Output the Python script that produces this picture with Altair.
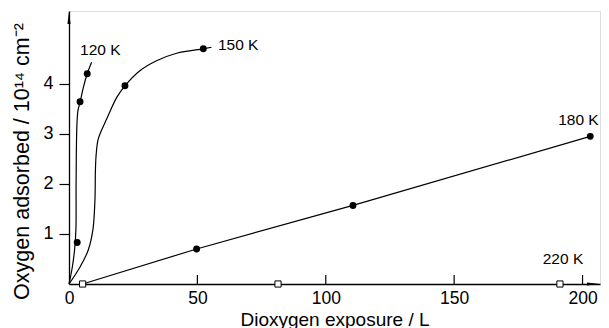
import altair as alt
import pandas as pd

# measured data points (Dioxygen exposure / L, oxygen adsorbed / 1e14 cm^-2)
k120_x = [3.2, 4.3, 7.1]
k120_y = [0.83, 3.64, 4.20]
k150_x = [21.8, 52.3]
k150_y = [3.96, 4.70]
k180_x = [49.7, 110.6, 203.0]
k180_y = [0.70, 1.57, 2.95]
k220_x = [5.3, 81.4, 191.2]
k220_y = [0.0, 0.0, 0.0]

# hand-drawn guide curves
c120_x = [0, 1.3, 2.2, 2.7, 2.75, 2.85, 3.1, 3.5, 4.3, 5.6, 7.1, 8.8]
c120_y = [0, 0.34, 0.70, 1.10, 1.90, 2.60, 3.20, 3.47, 3.63, 3.93, 4.20, 4.43]
c150_x = [0, 4.3, 7.5, 9.3, 10.1, 10.3, 10.6, 11.4, 14.7, 18.6, 21.8, 27.6, 34.1, 41.9, 52.3, 55.5]
c150_y = [0, 0.34, 0.68, 1.08, 1.67, 2.30, 2.60, 2.90, 3.30, 3.73, 3.96, 4.26, 4.46, 4.61, 4.70, 4.73]
c180_x = [5.3, 49.7, 110.6, 203.0]
c180_y = [0, 0.70, 1.57, 2.95]

labels = ["120 K", "150 K", "180 K", "220 K"]
label_x = [4.3, 58.0, 190.5, 184.5]
label_y = [4.68, 4.77, 3.28, 0.49]

x_ticks = [0, 50, 100, 150, 200]
x_inner_ticks = [50, 100, 150, 200]
y_ticks = [1, 2, 3, 4]
x_max = 206.8
y_max = 5.455

FONT = "Liberation Sans"
W, H = 531, 273

xscale = alt.Scale(domain=[0, x_max], nice=False, zero=False)
yscale = alt.Scale(domain=[0, y_max], nice=False, zero=False)

x_axis = alt.Axis(values=x_ticks, ticks=False, tickSize=0, grid=False, domainColor="black",
                  domainWidth=1.3, labelFontSize=17.5, labelColor="black", labelPadding=5,
                  labelFlush=False, labelFont=FONT, format="d",
                  title="Dioxygen exposure / L", titleFont=FONT,
                  titleFontSize=19, titleFontWeight="normal", titleColor="black",
                  titleY=41, titleBaseline="alphabetic")
y_axis = alt.Axis(values=y_ticks, ticks=True, tickSize=10, tickColor="black", tickWidth=1.2,
                  grid=False, domainColor="black", domainWidth=1.3, labelFontSize=18,
                  labelColor="black", labelPadding=6, labelFont=FONT, format="d",
                  title="Oxygen adsorbed / 10¹⁴ cm⁻²", titleFont=FONT, titleFontSize=21.5,
                  titleFontWeight="normal", titleColor="black", titleX=-40.5, titleY=150,
                  titleAlign="center", titleBaseline="alphabetic", titleAngle=270)


def X(field="x"):
    return alt.X(f"{field}:Q", scale=xscale, axis=x_axis)


def Y(field="y"):
    return alt.Y(f"{field}:Q", scale=yscale, axis=y_axis)


curves = pd.concat([
    pd.DataFrame({"x": c120_x, "y": c120_y, "k": "120", "i": range(len(c120_x))}),
    pd.DataFrame({"x": c150_x, "y": c150_y, "k": "150", "i": range(len(c150_x))}),
])
line180 = pd.DataFrame({"x": c180_x, "y": c180_y, "i": range(len(c180_x))})
dots = pd.DataFrame({"x": k120_x + k150_x + k180_x, "y": k120_y + k150_y + k180_y})
squares = pd.DataFrame({"x": k220_x, "y": k220_y})
lab = pd.DataFrame({"x": label_x, "y": label_y, "t": labels})
tick_df = pd.DataFrame({"x": x_inner_ticks})
arrow_up = pd.DataFrame({"x": [0], "y": [y_max]})
arrow_right = pd.DataFrame({"x": [x_max], "y": [0]})

curve_layer = alt.Chart(curves).mark_line(
    interpolate="catmull-rom", color="black", strokeWidth=1.2
).encode(x=X(), y=Y(), detail="k:N", order="i:Q")

line_layer = alt.Chart(line180).mark_line(color="black", strokeWidth=1.2).encode(
    x=X(), y=Y(), order="i:Q")

tick_layer = alt.Chart(tick_df).mark_rule(color="black", strokeWidth=1.2).encode(
    x=X(), y=alt.value(H), y2=alt.value(H - 9))

dot_layer = alt.Chart(dots).mark_circle(size=48, color="black", opacity=1).encode(x=X(), y=Y())

square_layer = alt.Chart(squares).mark_square(
    size=38, fill="white", stroke="black", strokeWidth=1, opacity=1, fillOpacity=1
).encode(x=X(), y=Y())

arrow_up_layer = alt.Chart(arrow_up).mark_point(
    shape="M0,0L0.24,2L-0.24,2Z", size=169, filled=True, fill="black", strokeWidth=0, opacity=1
).encode(x=X(), y=Y())

arrow_right_layer = alt.Chart(arrow_right).mark_point(
    shape="M0,0L-2,-0.24L-2,0.24Z", size=169, filled=True, fill="black", strokeWidth=0, opacity=1
).encode(x=X(), y=Y())

text_layer = alt.Chart(lab).mark_text(
    align="left", baseline="middle", font=FONT, fontSize=15.5, color="black"
).encode(x=X(), y=Y(), text="t:N")

chart = alt.layer(
    curve_layer, line_layer, tick_layer, dot_layer, square_layer,
    arrow_up_layer, arrow_right_layer, text_layer
).properties(
    width=W, height=H,
    autosize=alt.AutoSizeParams(type="none"),
    padding={"left": 61, "top": 3, "right": 1, "bottom": 46},
).configure_view(stroke=None).configure(background="white")

chart.save("out.html", embed_options={"renderer": "svg", "actions": False})
